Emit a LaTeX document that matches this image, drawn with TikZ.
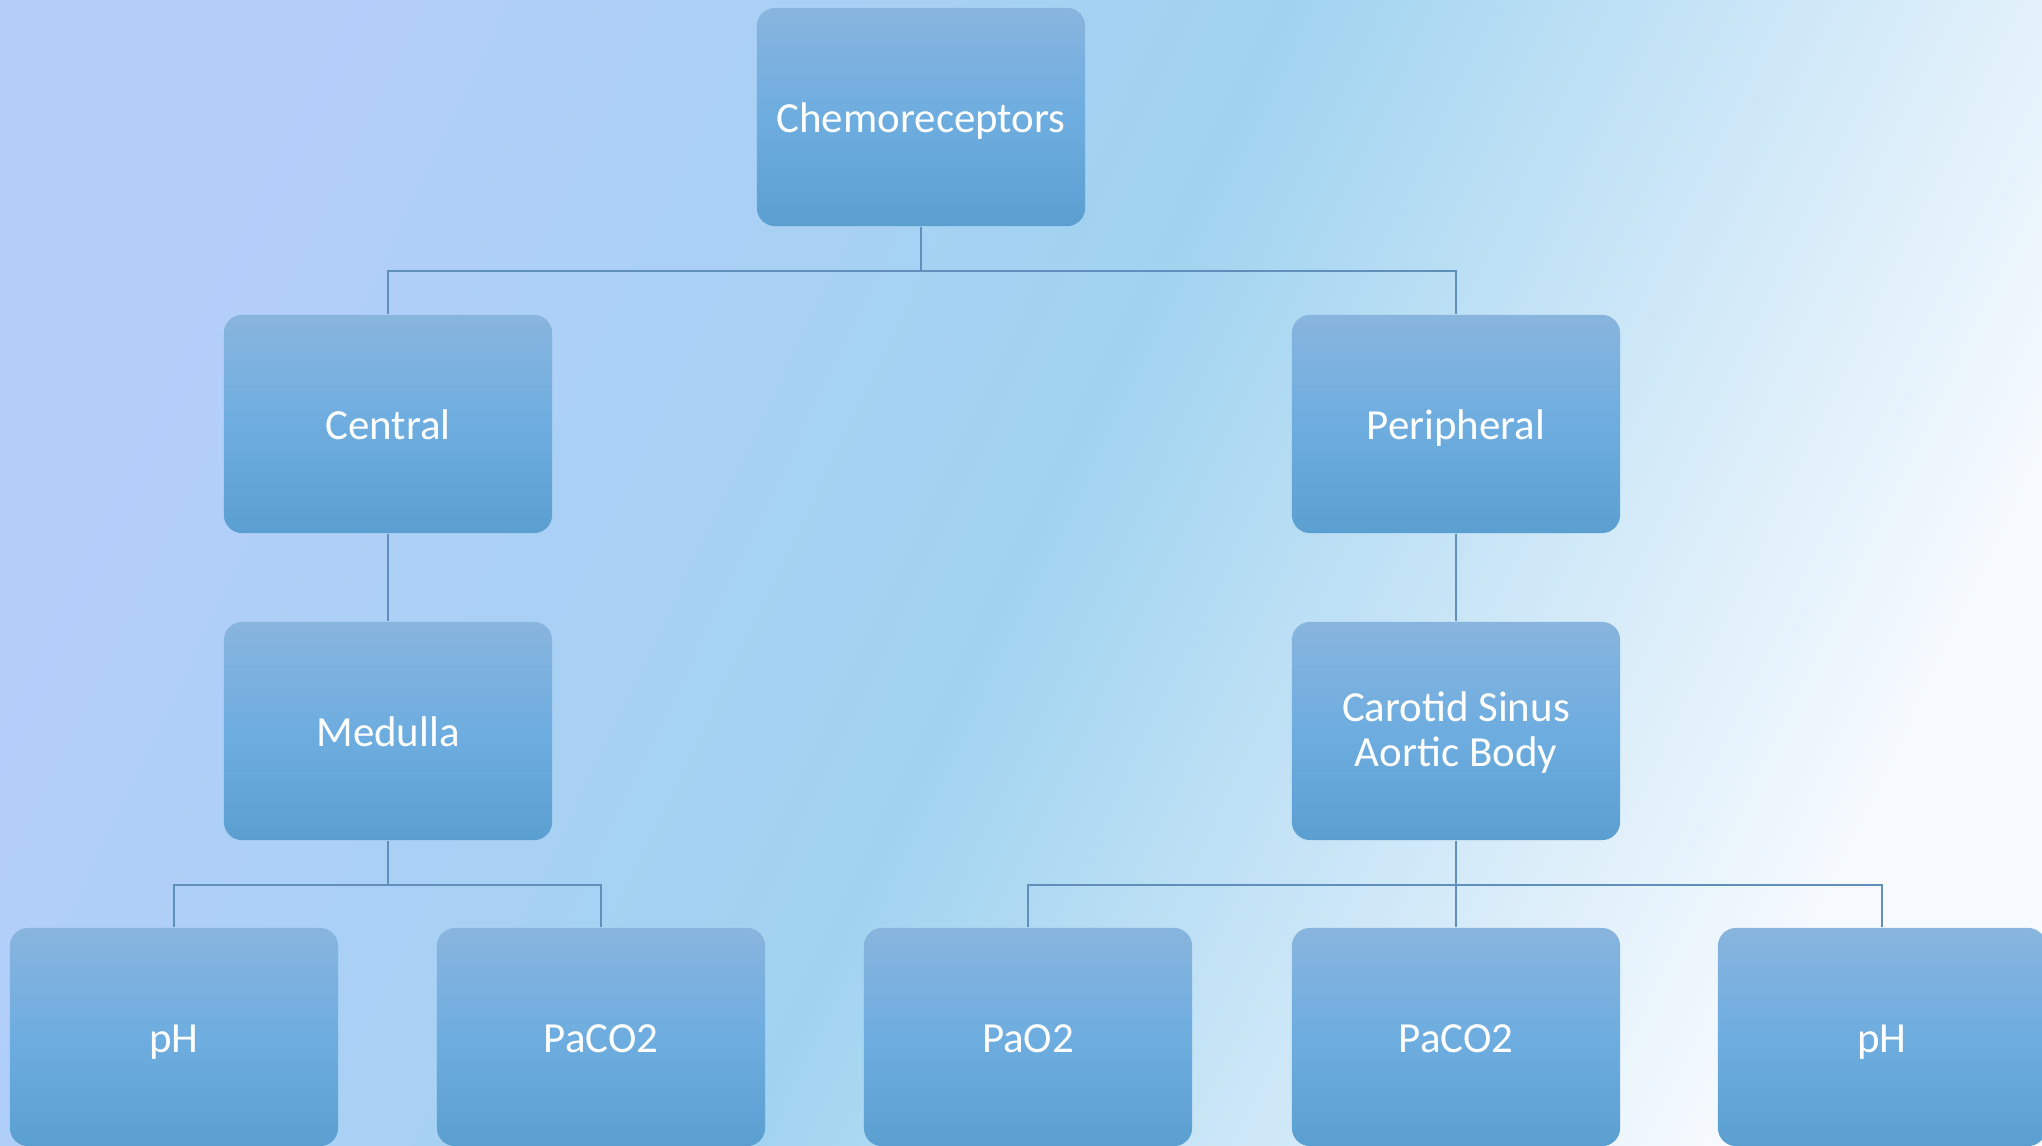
\documentclass[tikz,border=0pt]{standalone}
\usepackage{fontspec}
\setmainfont{Carlito}

\definecolor{boxtop}{RGB}{136,181,222}
\definecolor{boxmid}{RGB}{110,173,224}
\definecolor{boxbot}{RGB}{91,159,209}
\definecolor{linkcol}{RGB}{95,143,186}
\definecolor{bgA}{RGB}{180,206,250}
\definecolor{bgB}{RGB}{161,211,240}
\definecolor{bgC}{RGB}{246,250,254}

\pgfdeclarehorizontalshading{bgshade}{100bp}{color(0bp)=(bgA); color(25bp)=(bgA); color(50bp)=(bgB); color(75bp)=(bgC); color(100bp)=(bgC)}

\begin{document}
\begin{tikzpicture}[x=0.01cm, y=-0.01cm,
  box/.style={rectangle, rounded corners=0.18cm, minimum width=3.28cm, minimum height=2.18cm,
    top color=boxtop, bottom color=boxbot, middle color=boxmid, text=white, align=center,
    inner sep=0pt, text height=9pt, text depth=0pt, font=\fontsize{12.2}{12.8}\selectfont},
  link/.style={draw=linkcol, line width=0.6pt}]
\useasboundingbox (0,0) rectangle (2042,1145);
\shade[shading=bgshade, shading angle=-25.7] (0,0) rectangle (2042,1145);

\node[box] (chemo) at (921,117) {Chemoreceptors};
\node[box] (central) at (388,424) {Central};
\node[box] (periph) at (1456,424) {Peripheral};
\node[box] (medulla) at (388,731) {Medulla};
\node[box, text height=20.4pt] (carotid) at (1456,731) {Carotid Sinus\\Aortic Body};

\node[box] (phA) at (174,1037) {pH};
\node[box] (pcoA) at (601,1037) {PaCO2};
\node[box] (po) at (1028,1037) {PaO2};
\node[box] (pcoB) at (1456,1037) {PaCO2};
\node[box] (phB) at (1882,1037) {pH};

\draw[link] (chemo.south) -- ++(0,44) -| (central.north);
\draw[link] (chemo.south) -- ++(0,44) -| (periph.north);
\draw[link] (central) -- (medulla);
\draw[link] (periph) -- (carotid);
\draw[link] (medulla.south) -- ++(0,44) -| (phA.north);
\draw[link] (medulla.south) -- ++(0,44) -| (pcoA.north);
\draw[link] (carotid.south) -- ++(0,44) -| (po.north);
\draw[link] (carotid.south) -- (pcoB.north);
\draw[link] (carotid.south) -- ++(0,44) -| (phB.north);
\end{tikzpicture}
\end{document}
